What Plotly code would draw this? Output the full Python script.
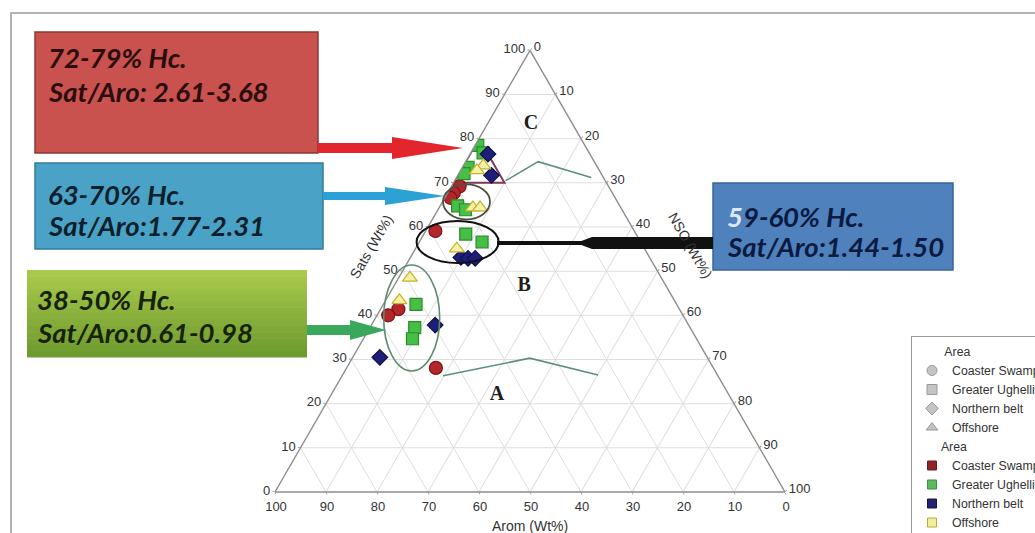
import math
import plotly.graph_objects as go

FIG_W, FIG_H = 1035, 533

# ---------------------------------------------------------------------------
# Sample compositions (wt%): saturates (Sats), aromatics (Arom), resins+asph. (NSO)
# ---------------------------------------------------------------------------
coaster_sats = [69.2, 67.7, 66.6, 59.1, 41.4, 40.0, 28.1]
coaster_arom = [29.2, 31.1, 32.3, 39.0, 55.1, 57.8, 54.4]
coaster_nso = [1.6, 1.2, 1.1, 1.9, 3.5, 2.2, 17.5]

ughelli_sats = [78.5, 76.8, 73.5, 72.1, 64.8, 63.9, 58.4, 56.6, 42.5, 37.2, 34.7]
ughelli_arom = [21.0, 20.8, 25.4, 26.9, 31.8, 30.7, 33.4, 31.1, 51.1, 54.0, 55.7]
ughelli_nso = [0.5, 2.4, 1.1, 1.0, 3.4, 5.4, 8.2, 12.3, 6.4, 8.8, 9.6]

northern_sats = [76.5, 71.7, 53.1, 52.9, 52.9, 37.8, 30.5]
northern_arom = [20.0, 21.7, 37.0, 35.7, 34.3, 49.7, 64.2]
northern_nso = [3.5, 6.6, 9.9, 11.4, 12.8, 12.5, 5.3]

offshore_sats = [73.9, 72.8, 64.4, 64.4, 55.1, 48.5, 43.4]
offshore_arom = [22.2, 24.0, 29.0, 27.6, 36.8, 49.3, 53.9]
offshore_nso = [3.9, 3.2, 6.6, 8.0, 8.1, 2.2, 2.7]

# Oil-type field boundaries
boundary_upper_sats = [70.5, 74.8, 71.2]
boundary_upper_arom = [19.5, 11.0, 2.4]
boundary_upper_nso = [10.0, 14.2, 26.4]

boundary_lower_sats = [26.3, 30.3, 26.5]
boundary_lower_arom = [53.9, 34.9, 23.4]
boundary_lower_nso = [19.8, 34.8, 50.1]

# High-saturate zone (one grid cell)
zone_sats = [80, 70, 70, 80]
zone_arom = [20, 30, 20, 20]
zone_nso = [0, 0, 10, 0]

# Field labels
field_names = ["C", "B", "A"]
field_sats = [83.4, 46.7, 21.9]
field_arom = [8.1, 27.8, 45.5]
field_nso = [8.5, 25.5, 32.6]

tick_values = [0, 10, 20, 30, 40, 50, 60, 70, 80, 90, 100]

area_names = ["Coaster Swamp", "Greater Ughelli", "Northern belt", "Offshore"]

# ---------------------------------------------------------------------------
# Geometry helpers (pixel -> paper, ternary -> pixel)
# ---------------------------------------------------------------------------
TRI_LEFT, TRI_WIDTH, TRI_BASE = 275.0, 510.0, 492.0
TRI_HEIGHT = TRI_WIDTH * math.sqrt(3) / 2


def fx(x):
    return x / FIG_W


def fy(y):
    return 1 - y / FIG_H


def tern_px(a, c):
    x = TRI_LEFT + TRI_WIDTH * (c + a / 2) / 100
    y = TRI_BASE - TRI_HEIGHT * a / 100
    return x, y


def poly_path(points):
    parts = [f"{'M' if i == 0 else 'L'} {fx(x):.5f},{fy(y):.5f}" for i, (x, y) in enumerate(points)]
    return " ".join(parts) + " Z"


fig = go.Figure()

# Zone outline and field boundaries
fig.add_trace(go.Scatterternary(
    a=zone_sats, b=zone_arom, c=zone_nso, mode="lines",
    line=dict(color="#7d3a55", width=2), showlegend=False, hoverinfo="skip"))
fig.add_trace(go.Scatterternary(
    a=boundary_upper_sats, b=boundary_upper_arom, c=boundary_upper_nso, mode="lines",
    line=dict(color="#5b917c", width=1.6), showlegend=False, hoverinfo="skip"))
fig.add_trace(go.Scatterternary(
    a=boundary_lower_sats, b=boundary_lower_arom, c=boundary_lower_nso, mode="lines",
    line=dict(color="#5b917c", width=1.6), showlegend=False, hoverinfo="skip"))

# Samples
series = [
    (coaster_sats, coaster_arom, coaster_nso, "circle", "#b3262a", "#7a1518", 13),
    (ughelli_sats, ughelli_arom, ughelli_nso, "square", "#45bf45", "#2b8a2b", 12),
    (northern_sats, northern_arom, northern_nso, "diamond", "#1d1d7a", "#10104a", 12),
    (offshore_sats, offshore_arom, offshore_nso, "triangle-up", "#f6f1a6", "#c5b42c", 13),
]
for (sa, ar, ns, sym, col, edge, size), name in zip(series, area_names):
    fig.add_trace(go.Scatterternary(
        a=sa, b=ar, c=ns, mode="markers", name=name, showlegend=False,
        marker=dict(symbol=sym, color=col, size=size, line=dict(color=edge, width=1.2))))

# Field labels
fig.add_trace(go.Scatterternary(
    a=field_sats, b=field_arom, c=field_nso, mode="text", text=field_names,
    textfont=dict(family="Liberation Serif", size=20, color="#1e1e1e"),
    texttemplate="<b>%{text}</b>", showlegend=False, hoverinfo="skip"))

# Legend: shape key then colour key
pad = "\u00a0" * 8
shape_symbols = ["circle", "square", "diamond", "triangle-up"]
for i, (name, sym) in enumerate(zip(area_names, shape_symbols)):
    fig.add_trace(go.Scatterternary(
        a=[None], b=[None], c=[None], mode="markers", name=name,
        legendgroup="shape", legendgrouptitle=dict(text=pad + "Area") if i == 0 else None,
        marker=dict(symbol=sym, color="#c4c4c4", size=10, line=dict(color="#9a9a9a", width=1))))

legend_colors = [("#8e2426", "#6a1a1c"), ("#5cb85c", "#3f8f3f"), ("#22226f", "#141445"), ("#f2eea0", "#b8ad2c")]
for i, (name, (col, edge)) in enumerate(zip(area_names, legend_colors)):
    fig.add_trace(go.Scatterternary(
        a=[None], b=[None], c=[None], mode="markers", name=name,
        legendgroup="color", legendgrouptitle=dict(text=pad[:-1] + "Area") if i == 0 else None,
        marker=dict(symbol="square", color=col, size=9, line=dict(color=edge, width=1))))

axis_style = dict(
    tickmode="array", tickvals=tick_values,
    showgrid=True, gridcolor="#dedede", gridwidth=1,
    linecolor="#8c8c8c", linewidth=1.4,
    ticks="outside", ticklen=2, tickcolor="#a0a0a0",
    tickfont=dict(family="Liberation Sans", size=13, color="#333333"),
    title=dict(text=""), min=0,
)

shapes = []

# Outer frame
shapes.append(dict(type="rect", xref="paper", yref="paper",
                   x0=fx(11), x1=fx(1045), y0=fy(545), y1=fy(13),
                   line=dict(color="#9a9a9a", width=1.5), fillcolor="rgba(0,0,0,0)", layer="below"))

# Ellipses around sample groups (centre in ternary coords, radii in px)
ellipses = [
    (65.7, 4.7, 23.5, 17.5, "#4f4f40", 1.8),
    (56.6, 7.5, 41.0, 21.0, "#111111", 2.0),
    (39.4, 7.1, 28.0, 53.0, "#5f8a6e", 1.6),
]
for a, c, rx, ry, col, w in ellipses:
    cx, cy = tern_px(a, c)
    shapes.append(dict(type="circle", xref="paper", yref="paper",
                       x0=fx(cx - rx), x1=fx(cx + rx), y0=fy(cy + ry), y1=fy(cy - ry),
                       line=dict(color=col, width=w)))

# Callout boxes
shapes.append(dict(type="rect", xref="paper", yref="paper", x0=fx(35), x1=fx(318), y0=fy(153), y1=fy(32),
                   fillcolor="#c9514e", line=dict(color="#8a3834", width=1.5)))
shapes.append(dict(type="rect", xref="paper", yref="paper", x0=fx(35), x1=fx(323), y0=fy(249), y1=fy(163),
                   fillcolor="#4aa3c6", line=dict(color="#2f7e9c", width=1.5)))
# green box with a vertical shading
g_top, g_bot, n_strips = (168, 201, 76), (110, 154, 46), 14
y_top, y_bot = 270.0, 357.0
for i in range(n_strips):
    t = i / (n_strips - 1)
    col = tuple(round(g_top[k] + (g_bot[k] - g_top[k]) * t) for k in range(3))
    ya = y_top + (y_bot - y_top) * i / n_strips
    yb = y_top + (y_bot - y_top) * (i + 1) / n_strips
    shapes.append(dict(type="rect", xref="paper", yref="paper", x0=fx(27), x1=fx(307), y0=fy(yb + 0.5), y1=fy(ya),
                       fillcolor=f"rgb{col}", line=dict(width=0)))
shapes.append(dict(type="rect", xref="paper", yref="paper", x0=fx(713), x1=fx(953), y0=fy(270), y1=fy(183),
                   fillcolor="#4f81bd", line=dict(color="#3a6597", width=1.5)))

# Arrows
shapes.append(dict(type="path", xref="paper", yref="paper", fillcolor="#e2262b", line=dict(width=0),
                   path=poly_path([(318, 143), (392, 143), (392, 137), (463, 148), (392, 159), (392, 153), (318, 153)])))
shapes.append(dict(type="path", xref="paper", yref="paper", fillcolor="#2ba1d6", line=dict(width=0),
                   path=poly_path([(323, 192), (385, 192), (385, 187), (445, 196), (385, 205), (385, 200), (323, 200)])))
shapes.append(dict(type="path", xref="paper", yref="paper", fillcolor="#3aa85a", line=dict(width=0),
                   path=poly_path([(307, 325), (350, 325), (350, 320), (386, 330), (350, 340), (350, 335), (307, 335)])))
shapes.append(dict(type="line", xref="paper", yref="paper", x0=fx(497), x1=fx(585), y0=fy(243), y1=fy(243),
                   line=dict(color="#111111", width=4)))
shapes.append(dict(type="path", xref="paper", yref="paper", fillcolor="#111111", line=dict(width=0),
                   path=poly_path([(713, 237), (592, 237), (576, 243), (592, 249), (713, 249)])))

# Callout texts
callouts = [
    ("72-79% Hc.", 46, 58, "#2a0d0d"),
    ("Sat/Aro: 2.61-3.68", 46, 92, "#2a0d0d"),
    ("63-70% Hc.", 46, 194, "#0c1f2c"),
    ("Sat/Aro:1.77-2.31", 46, 226, "#0c1f2c"),
    ("38-50% Hc.", 35, 299, "#16230a"),
    ("Sat/Aro:0.61-0.98", 35, 332, "#16230a"),
    ("<span style='color:#dce9f8'>5</span>9-60% Hc.", 725, 216, "#0b1a40"),
    ("Sat/Aro:1.44-1.50", 725, 247, "#0b1a40"),
]
annotations = []
for txt, x, y, col in callouts:
    annotations.append(dict(text=f"<b><i>{txt}</i></b>", x=fx(x), y=fy(y), xref="paper", yref="paper",
                            xanchor="left", yanchor="middle", showarrow=False,
                            font=dict(family="Lato", size=27.5, color=col)))

# Axis titles
title_font = dict(family="Liberation Sans", size=14, color="#333333")
annotations.append(dict(text="Sats (Wt%)", x=fx(371), y=fy(247), xref="paper", yref="paper",
                        xanchor="center", yanchor="middle",
                        showarrow=False, textangle=-60, font=title_font))
annotations.append(dict(text="NSO (Wt%)", x=fx(690), y=fy(245), xref="paper", yref="paper",
                        xanchor="center", yanchor="middle",
                        showarrow=False, textangle=60, font=title_font))
annotations.append(dict(text="Arom (Wt%)", x=fx(530), y=fy(526), xref="paper", yref="paper",
                        xanchor="center", yanchor="middle",
                        showarrow=False, font=title_font))

fig.update_layout(
    width=FIG_W, height=FIG_H,
    margin=dict(l=0, r=0, t=0, b=0, autoexpand=False),
    paper_bgcolor="white",
    ternary=dict(
        sum=100,
        bgcolor="white",
        domain=dict(x=[fx(TRI_LEFT), fx(TRI_LEFT + TRI_WIDTH)],
                    y=[fy(TRI_BASE), fy(TRI_BASE - TRI_HEIGHT)]),
        aaxis=axis_style, baxis=axis_style, caxis=axis_style,
    ),
    legend=dict(
        x=fx(911), xanchor="left", y=fy(336), yanchor="top",
        bgcolor="white", bordercolor="#9a9a9a", borderwidth=1,
        font=dict(family="Liberation Sans", size=12.3, color="#333333"),
        grouptitlefont=dict(family="Liberation Sans", size=12.3, color="#333333"),
        tracegroupgap=0, traceorder="grouped", itemclick=False,
    ),
    shapes=shapes,
    annotations=annotations,
)

fig.write_html("out.html")
